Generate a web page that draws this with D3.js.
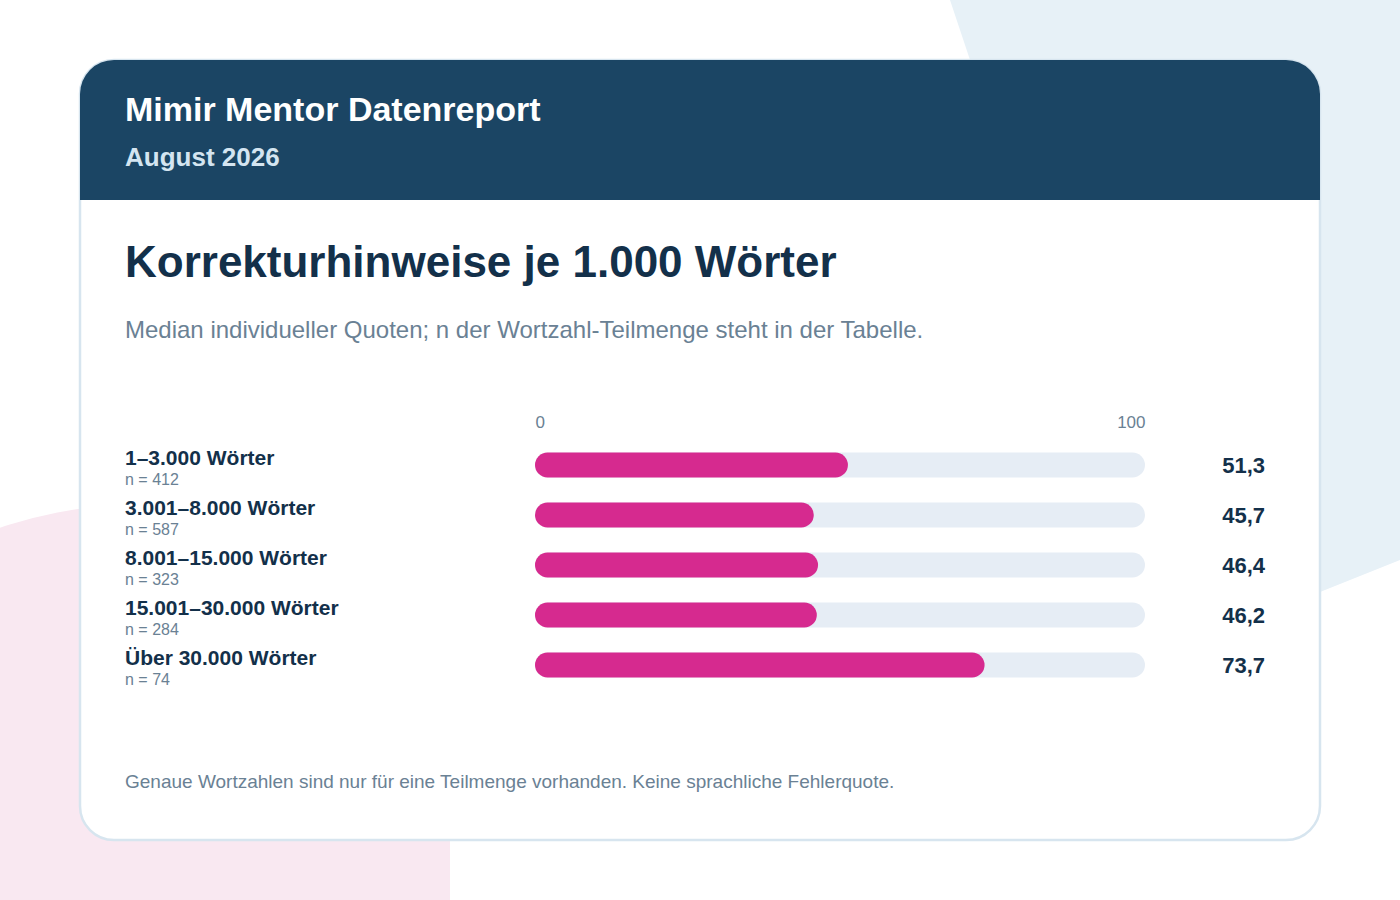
<!DOCTYPE html>
<html>
<head>
<meta charset="utf-8">
<script src="https://cdn.jsdelivr.net/npm/d3@7"></script>
<style>
  html, body { margin: 0; padding: 0; background: #ffffff; }
  svg { display: block; font-family: "Liberation Sans", Arial, sans-serif; }
</style>
</head>
<body>
<svg id="chart" width="1400" height="900"></svg>
<script>

// data
var categories = ['1\u20133.000 W\u00f6rter', '3.001\u20138.000 W\u00f6rter', '8.001\u201315.000 W\u00f6rter', '15.001\u201330.000 W\u00f6rter', '\u00dcber 30.000 W\u00f6rter'];
var counts = [412, 587, 323, 284, 74];
var values = [51.3, 45.7, 46.4, 46.2, 73.7];
var tickValues = [0, 100];

var card = {x: 80, y: 60, w: 1240, h: 780, r: 34, head: 140};

var svg = d3.select('#chart');
var fmt = function (v) { return v.toFixed(1).replace('.', ','); };

// hintergrund formen
svg.append('path')
	.attr('d', 'M950,0 L1400,0 L1400,560 L1168,653 Z')
	.attr('fill', '#e7f1f7');
svg.append('path')
	.attr('d', 'M450,503 L155,503 A500,500 0 0 0 -345,1003 L450,1003 Z')
	.attr('fill', '#f9e8f1');

// kaart
svg.append('rect')
	.attr('x', card.x).attr('y', card.y)
	.attr('width', card.w).attr('height', card.h)
	.attr('rx', card.r)
	.attr('fill', '#ffffff')
	.attr('stroke', '#d7e5ef').attr('stroke-width', 2.5);

// kop: bovenhoeken rond, onderkant recht
var hx = card.x, hy = card.y, hw = card.w, hh = card.head, r = card.r;
svg.append('path')
	.attr('d', 'M' + hx + ',' + (hy + hh) +
		' L' + hx + ',' + (hy + r) +
		' A' + r + ',' + r + ' 0 0 1 ' + (hx + r) + ',' + hy +
		' L' + (hx + hw - r) + ',' + hy +
		' A' + r + ',' + r + ' 0 0 1 ' + (hx + hw) + ',' + (hy + r) +
		' L' + (hx + hw) + ',' + (hy + hh) + ' Z')
	.attr('fill', '#1b4564');

svg.append('text')
	.attr('x', 125).attr('y', 121)
	.attr('fill', '#ffffff')
	.attr('font-size', '34px').attr('font-weight', 'bold')
	.text('Mimir Mentor Datenreport');
svg.append('text')
	.attr('x', 125).attr('y', 166)
	.attr('fill', '#d4e5f1')
	.attr('font-size', '26px').attr('font-weight', 'bold')
	.text('August 2026');

svg.append('text')
	.attr('x', 125).attr('y', 277)
	.attr('fill', '#13304a')
	.attr('font-size', '44px').attr('font-weight', 'bold')
	.text('Korrekturhinweise je 1.000 W\u00f6rter');
svg.append('text')
	.attr('x', 125).attr('y', 338)
	.attr('fill', '#6a8194')
	.attr('font-size', '24px')
	.text('Median individueller Quoten; n der Wortzahl-Teilmenge steht in der Tabelle.');

// schalen
var x = d3.scaleLinear().domain([0, 100]).range([535, 1145]);
var y = d3.scaleBand().domain(categories).range([440, 690]).paddingInner(0.5).paddingOuter(0.25);
// band = 25, stap = 50

var axis = d3.axisTop(x).tickValues(tickValues).tickSize(0).tickPadding(0);
var ax = svg.append('g').attr('transform', 'translate(0,428)').call(axis);
ax.select('.domain').remove();
ax.selectAll('text')
	.attr('fill', '#6a8194')
	.attr('font-size', '17px')
	.attr('font-family', '"Liberation Sans", Arial, sans-serif')
	.attr('dy', 0)
	.attr('text-anchor', function (d) { return d === 0 ? 'start' : 'end'; });

var rows = svg.selectAll('g.row').data(categories).enter()
	.append('g').attr('class', 'row');

rows.append('rect')
	.attr('x', x(0)).attr('y', function (d) { return y(d); })
	.attr('width', x(100) - x(0)).attr('height', y.bandwidth())
	.attr('rx', y.bandwidth() / 2)
	.attr('fill', '#e6edf5');

rows.append('rect')
	.attr('x', x(0)).attr('y', function (d) { return y(d); })
	.attr('width', function (d, i) { return x(values[i]) - x(0); })
	.attr('height', y.bandwidth())
	.attr('rx', y.bandwidth() / 2)
	.attr('fill', '#d62a8f');

rows.append('text')
	.attr('x', 125).attr('y', function (d) { return y(d) + 12; })
	.attr('fill', '#13304a')
	.attr('font-size', '21px').attr('font-weight', 'bold')
	.text(function (d) { return d; });

rows.append('text')
	.attr('x', 125).attr('y', function (d) { return y(d) + 32; })
	.attr('fill', '#6a8194')
	.attr('font-size', '16px')
	.text(function (d, i) { return 'n = ' + counts[i]; });

rows.append('text')
	.attr('x', 1265).attr('y', function (d) { return y(d) + y.bandwidth() / 2 + 8; })
	.attr('text-anchor', 'end')
	.attr('fill', '#13304a')
	.attr('font-size', '22px').attr('font-weight', 'bold')
	.text(function (d, i) { return fmt(values[i]); });

svg.append('text')
	.attr('x', 125).attr('y', 788)
	.attr('fill', '#6a8194')
	.attr('font-size', '19px')
	.text('Genaue Wortzahlen sind nur f\u00fcr eine Teilmenge vorhanden. Keine sprachliche Fehlerquote.');

</script>
</body>
</html>
